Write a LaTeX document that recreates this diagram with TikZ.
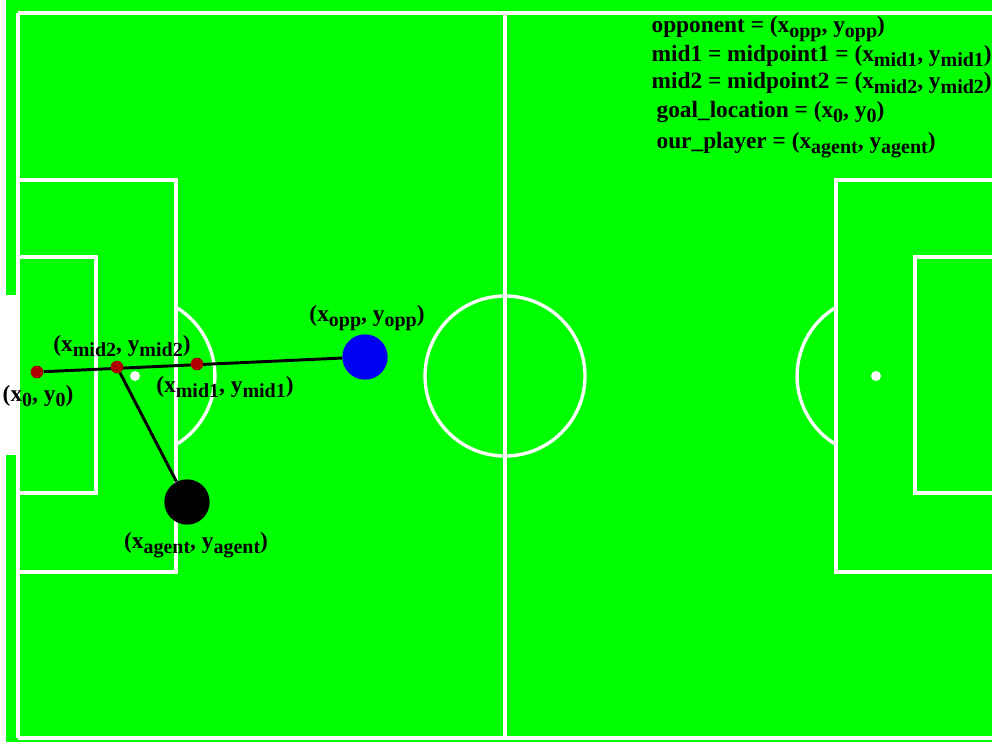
\documentclass[tikz,border=0pt]{standalone}
\usepackage{fontspec}
\setmainfont{Liberation Serif}
\usepackage{tikz}
\usetikzlibrary{positioning}
\definecolor{pitch}{RGB}{0,255,0}
\definecolor{dotred}{RGB}{175,0,0}
\definecolor{oppblue}{RGB}{0,0,245}
\newcommand\lo[1]{\raisebox{-0.5ex}{\fontsize{15}{15}\selectfont #1}}
\tikzset{
  fline/.style  = {draw=white, line width=2.5pt},
  reddot/.style = {circle, fill=dotred, inner sep=0pt, minimum size=9.5pt},
  bigdot/.style = {circle, inner sep=0pt, minimum size=34pt},
  link/.style   = {draw=black, line width=2.2pt},
  lbl/.style    = {font=\fontsize{17.5}{19}\selectfont\bfseries, inner sep=1pt},
  key/.style    = {lbl, anchor=west},
}
\begin{document}
\begin{tikzpicture}[x=0.75pt, y=-0.75pt]
  \useasboundingbox (0,0) rectangle (992,742);
  % pitch
  \fill[white] (0,0) rectangle (992,742);
  \fill[pitch] (6,0) rectangle (992,742);
  \fill[white] (0,295) rectangle (18,455);
  \draw[fline] (18,13) -- (992,13);
  \draw[fline] (18,738) -- (992,738);
  \draw[fline] (18,13) -- (18,738);
  \draw[fline] (505,13) -- (505,738);
  \draw[fline] (505,376) circle[radius=80];
  % left half
  \draw[fline] (18,180) -| (176,572) -- (18,572);
  \draw[fline] (18,257) -| (96,493) -- (18,493);
  \draw[fline] (176,307.3) arc[start angle=-59.1, end angle=59.1, radius=80];
  \fill[white] (135,376) circle[radius=5];
  % right half
  \draw[fline] (992,180) -| (836,572) -- (992,572);
  \draw[fline] (992,257) -| (915,493) -- (992,493);
  \draw[fline] (836,307.3) arc[start angle=239.1, end angle=120.9, radius=80];
  \fill[white] (876,376) circle[radius=5];

  % players and points
  \node[reddot] (goal) at (37,372) {};
  \node[bigdot, fill=oppblue] (opp) at (365,357) {};
  \node[bigdot, fill=black] (agent) at (187,502) {};
  \draw[link] (goal) -- (opp);
  \node[reddot] (mid1) at (197,364) {};
  \node[reddot] (mid2) at (117,367) {};
  \draw[link] (mid2) -- (agent);

  \node[lbl] (oppl) at (367,318) {(x\lo{opp}, y\lo{opp})};
  \node[lbl] (mid2l) at (122,346) {(x\lo{mid2}, y\lo{mid2})};
  \node[lbl] (mid1l) at (225,387) {(x\lo{mid1}, y\lo{mid1})};
  \node[lbl] (goall) at (38,396) {(x\lo{0}, y\lo{0})};
  \node[lbl] (agentl) at (196,545) {(x\lo{agent}, y\lo{agent})};

  % legend
  \node[key] (k1) at (650,29) {opponent = (x\lo{opp}, y\lo{opp})};
  \node[key] (k2) at (650,56) {mid1 = midpoint1 = (x\lo{mid1}, y\lo{mid1})};
  \node[key] (k3) at (650,83) {mid2 = midpoint2 = (x\lo{mid2}, y\lo{mid2})};
  \node[key] (k4) at (655,112) {goal\_location = (x\lo{0}, y\lo{0})};
  \node[key] (k5) at (655,145) {our\_player = (x\lo{agent}, y\lo{agent})};
\end{tikzpicture}
\end{document}
